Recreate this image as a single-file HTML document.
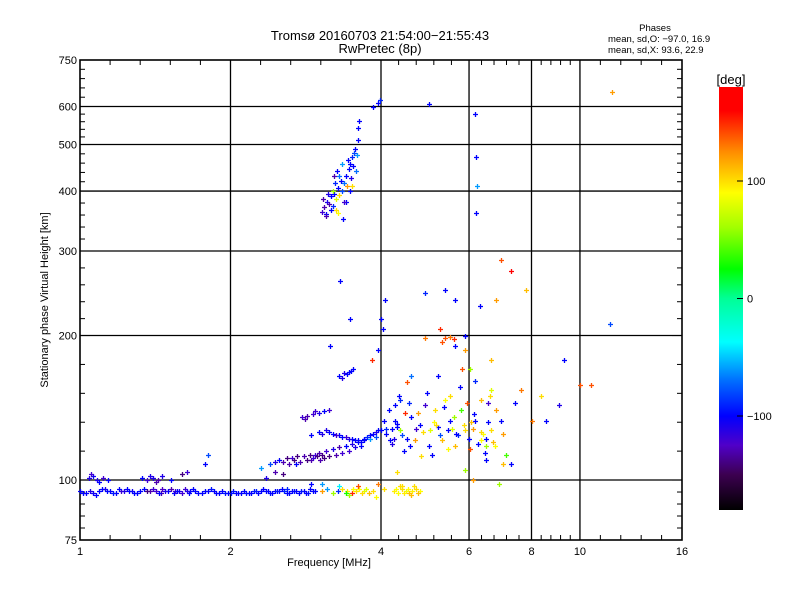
<!DOCTYPE html>
<html><head><meta charset="utf-8">
<style>
html,body{margin:0;padding:0;background:#fff;}
svg{display:block;font-family:"Liberation Sans",sans-serif;}
</style></head>
<body>
<svg id="chart" width="800" height="600" viewBox="0 0 800 600" xmlns="http://www.w3.org/2000/svg">
<rect width="800" height="600" fill="#fff"/>
<defs>
<linearGradient id="cbgrad" x1="0" y1="1" x2="0" y2="0">
<stop offset="0" stop-color="#000000"/>
<stop offset="0.0833" stop-color="#3c0050"/>
<stop offset="0.1528" stop-color="#5000c8"/>
<stop offset="0.2222" stop-color="#0000ff"/>
<stop offset="0.3056" stop-color="#006eff"/>
<stop offset="0.3972" stop-color="#00ffff"/>
<stop offset="0.5" stop-color="#00ff96"/>
<stop offset="0.5694" stop-color="#00ff00"/>
<stop offset="0.6667" stop-color="#a0ff00"/>
<stop offset="0.75" stop-color="#ffff00"/>
<stop offset="0.8472" stop-color="#ff8c00"/>
<stop offset="0.9444" stop-color="#ff0000"/>
<stop offset="1" stop-color="#ff0000"/>
</linearGradient>
</defs>
<text x="380" y="40" font-size="13" text-anchor="middle">Tromsø 20160703 21:54:00−21:55:43</text>
<text x="380" y="53" font-size="13" text-anchor="middle">RwPretec (8p)</text>
<text x="655" y="31" font-size="9.5" text-anchor="middle">Phases</text>
<text x="608" y="42" font-size="9.5">mean, sd,O: −97.0, 16.9</text>
<text x="608" y="53" font-size="9.5">mean, sd,X:  93.6, 22.9</text>
<g id="grid"></g>
<g id="axes"></g>
<g id="marks"></g>
<text x="329" y="566" font-size="11" text-anchor="middle">Frequency [MHz]</text>
<text transform="translate(48,300) rotate(-90)" font-size="11" text-anchor="middle">Stationary phase Virtual Height [km]</text>
<rect x="719" y="87" width="24" height="423" fill="url(#cbgrad)"/>
<text x="731" y="84" font-size="13" text-anchor="middle">[deg]</text>
<g id="cbticks"></g>
</svg>
<script>
const xTickLabels=[1,2,4,6,8,10,16];
const xGridValues=[2,4,6,8,10];
const yTickLabels=[75,100,200,300,400,500,600,750];
const yGridValues=[100,200,300,400,500,600];
const cbTickValues=[100,0,-100];

const eTraceFreq=[1.00,1.03,1.06,1.09,1.12,1.15,1.18,1.21,1.24,1.27,1.30,1.34,1.38,1.42,1.46,1.50,1.54,1.58,1.62,1.66,1.70,1.75,1.80,1.85,1.90,1.95,2.00,2.05,2.10,2.15,2.20,2.25,2.30,2.35,2.40,2.45,2.50,2.56,2.62,2.68,2.74,2.80,2.86,2.92,1.45,1.55,1.65,2.6];
const eTraceHeight=[95,94,94,95,96,95,94,95,96,95,94,96,95,95,96,95,94,95,96,95,95,94,95,95,94,94,94,94,94,94,94,95,95,95,94,95,95,95,94,95,94,95,94,95,94,95,94,96];
const eTracePhase=[-100,-100,-105,-100,-110,-100,-100,-120,-100,-105,-100,-100,-130,-120,-125,-100,-100,-110,-120,-100,-100,-100,-100,-100,-100,-95,-95,-100,-100,-95,-100,-90,-100,-100,-95,-100,-100,-90,-100,-95,-100,-100,-95,-100,-130,-120,-100,-90];

const eTrace2Freq=[1.015,1.045,1.075,1.105,1.135,1.165,1.195,1.225,1.255,1.285,1.32,1.36,1.40,1.44,1.48,1.52,1.56,1.60,1.64,1.68,1.725,1.775,1.825,1.875,1.925,1.975,2.025,2.075,2.125,2.175,2.225,2.275,2.325,2.375,2.425,2.475,2.53,2.59,2.65,2.71,2.77,2.83,2.89,2.95];
const eTrace2Height=[94,95,93,96,95,94,96,95,95,94,95,95,96,94,95,96,95,94,95,96,94,95,96,94,95,94,95,94,95,94,95,94,96,95,94,95,96,94,95,95,95,94,96,95];
const eTrace2Phase=[-100,-110,-100,-100,-100,-95,-100,-110,-100,-100,-100,-140,-120,-100,-110,-130,-100,-120,-110,-100,-100,-100,-95,-100,-100,-100,-95,-100,-100,-100,-95,-100,-100,-100,-100,-95,-100,-100,-100,-100,-95,-100,-100,-100];

const eHighFreq=[1.04,1.06,1.08,1.11,1.14,1.33,1.36,1.40,1.43,1.46,1.52,1.60,1.64,2.35,2.45,2.55,2.9,3.05,1.05,1.09,1.38,1.42,1.78,1.8];
const eHighHeight=[101,102,100,101,100,101,100,101,100,102,100,103,104,101,104,103,98,98,103,99,102,99,108,113];
const eHighPhase=[-110,-105,-110,-120,-100,-100,-120,-110,-130,-110,-100,-140,-120,-110,-130,-140,-100,-60,-120,-100,-110,-130,-100,-80];

const esFreq=[3.05,3.12,3.2,3.28,3.35,3.42,3.5,3.56,3.62,3.7,3.78,3.85,4.25,4.32,4.4,4.48,4.55,4.62,4.7,4.78,3.45,3.6,4.4,4.6,3.3,3.52,3.66,3.74,4.28,4.36,4.44,4.52,4.66,4.74,3.4,3.9,3.95,4.05];
const esHeight=[95,96,94,95,96,95,94,95,96,95,94,95,95,94,96,95,94,95,96,95,93,97,97,93,97,96,94,96,96,97,94,96,97,94,94,92,98,96];
const esPhase=[120,-60,60,-90,100,95,150,100,90,80,110,100,95,90,100,85,110,95,100,90,60,140,100,110,-40,90,100,80,90,100,95,90,100,110,30,90,130,100];

const fLowFreq=[2.45,2.5,2.55,2.6,2.65,2.72,2.8,2.88,2.95,3.0,3.05,3.1,3.2,3.3,3.4,3.5,3.6,3.7,3.8,3.9,2.7,2.9,3.15,3.35,2.62,2.68,2.76,2.84,2.92,2.98,3.02,3.08,3.25,3.45,3.55,3.65,2.3,2.4];
const fLowHeight=[109,110,109,111,111,112,112,113,113,114,113,115,116,117,118,119,120,121,122,123,108,110,112,114,108,110,109,110,111,112,110,111,113,115,117,118,106,108];
const fLowPhase=[-110,-100,-130,-140,-120,-140,-130,-140,-120,-130,-140,-120,-110,-130,-100,-110,-100,-100,-60,-80,-100,-130,-140,-120,-130,-140,-130,-140,-120,-140,-130,-140,-130,-120,-110,-100,-60,-80];

const fMidFreq=[2.9,3.0,3.1,3.2,3.3,3.4,3.5,3.6,3.7,3.8,3.9,4.0,4.1,4.2,4.3,2.78,2.85,2.92,3.0,3.08,3.15,3.3,3.38,3.45,3.52,3.05,3.15,3.25,3.35,3.45,3.55,3.65,3.75,3.85,3.95,2.82,2.95,3.35,3.42,3.48];
const fMidHeight=[124,126,127,125,124,123,122,121,122,124,126,127,128,128,129,135,136,137,138,139,140,165,167,168,170,125,126,124,123,122,121,120,123,125,127,134,139,163,166,169];
const fMidPhase=[-100,-100,-110,-100,-100,-120,-100,-100,-100,-100,-110,-100,-90,-100,-100,-120,-130,-120,-110,-100,-120,-100,-110,-100,-100,-110,-100,-120,-100,-110,-100,-100,-90,-100,-100,-130,-120,-110,-100,-100];

const fHighFreq=[3.05,3.08,3.1,3.12,3.15,3.18,3.2,3.22,3.25,3.28,3.3,3.32,3.35,3.38,3.4,3.42,3.45,3.48,3.5,3.52,3.55,3.58,3.6,3.2,3.3,3.4,3.62,3.85,3.95,3.98,3.1,3.25,3.06,3.14,3.17,3.23,3.27,3.34,3.37,3.44,3.47,3.53,3.57,3.36,3.28,3.46,3.6,3.22,3.5];
const fHighHeight=[362,370,358,380,375,390,372,395,385,405,392,420,400,415,430,410,445,425,470,450,490,475,510,400,430,380,560,600,610,620,355,365,385,395,365,415,440,455,380,465,400,480,440,350,360,455,540,430,410];
const fHighPhase=[-120,-130,-100,-110,-130,-100,-90,-100,80,-100,100,-100,-80,-70,-100,120,-100,-110,-90,-100,-100,-60,-100,60,-70,-100,-100,-100,-100,-90,-130,100,-130,-110,-100,-90,-100,-60,-120,-100,-100,-80,-70,-100,90,-100,-100,-130,100];

const scatterFreq=[4.17,4.27,4.37,4.47,4.57,4.68,4.79,4.90,5.01,5.13,5.25,5.38,5.50,5.63,5.77,5.90,6.04,6.18,6.33,6.48,6.63,6.79,6.33,6.63,6.95,7.11,7.28,7.63,8.37,8.57,9.1,9.3,10,10.5,8.0,11.5,11.6,7.8,7.28,6.95,6.79,5.63,5.38,5.25,5.38,5.50,5.63,5.90,6.04,6.18,6.63,4.0,4.08,4.04,3.94,3.84,3.46,3.31,3.16,4.27,4.37,6.18,6.2,6.22,6.2,5.0,4.9,4.5,4.8,5.9,6.1,6.5,7.0,5.5,4.6,4.3,6.9,6.5];
const scatterHeight=[121,133,127,138,118,121,130,143,127,140,124,147,133,118,140,127,116,133,121,118,127,140,147,154,133,113,108,154,150,133,143,178,158,158,133,211,643,249,273,287,237,237,249,206,198,199,190,187,170,161,178,216,237,206,187,178,216,260,190,143,147,580,470,410,360,606,245,160,112,105,100,110,108,150,165,104,98,122];
const scatterPhase=[-100,-100,60,150,-100,120,-100,-120,80,100,-80,90,-100,110,40,100,140,-100,90,60,100,120,110,80,-100,40,-100,130,100,-100,-110,-100,140,140,130,-80,120,110,160,140,120,-100,-100,150,140,130,-100,120,60,-90,110,-100,-100,-100,-100,150,-100,-100,-100,-100,-90,-100,-100,-60,-100,-100,-90,140,100,60,120,-100,110,100,-70,100,60,-100];

const scatter2Freq=[4.1,4.2,4.3,4.4,4.5,4.6,4.7,4.85,5.0,5.1,5.2,5.3,5.45,5.6,5.7,5.85,6.0,6.1,6.25,6.4,6.55,6.7,4.15,4.35,4.55,4.75,4.95,5.15,5.35,5.55,5.75,5.95,6.15,6.35,6.55,6.75,4.05,4.25,4.45,5.05,5.45,5.65,6.05,6.45,7.0,7.4,5.2,5.8,6.6,4.9,5.3,5.6,5.9,6.3];
const scatter2Height=[125,119,131,124,122,135,128,126,118,132,129,121,127,135,124,130,122,128,119,125,132,120,140,150,145,138,152,130,142,128,156,145,137,126,145,118,133,122,115,113,116,125,132,114,125,145,165,170,150,198,194,197,200,230];
const scatter2Phase=[-100,-110,-100,-80,-100,-100,-120,100,-100,90,-100,110,-100,60,-90,100,-100,120,-100,90,-100,110,-100,-100,-90,120,-100,100,-100,80,-100,140,-100,100,-120,90,-100,-110,-100,-100,90,-100,110,-100,120,-100,-100,140,100,130,140,150,-100,-100];

const groups=[
 [eTraceFreq,eTraceHeight,eTracePhase,'e-layer-point'],
 [eTrace2Freq,eTrace2Height,eTrace2Phase,'e-layer-point'],
 [eHighFreq,eHighHeight,eHighPhase,'e-high-point'],
 [esFreq,esHeight,esPhase,'es-point'],
 [fLowFreq,fLowHeight,fLowPhase,'f-low-point'],
 [fMidFreq,fMidHeight,fMidPhase,'f-mid-point'],
 [fHighFreq,fHighHeight,fHighPhase,'f-high-point'],
 [scatterFreq,scatterHeight,scatterPhase,'scatter-point'],
 [scatter2Freq,scatter2Height,scatter2Phase,'scatter-point']
];

const X0=80,X1=682,Y0=540,Y1=60;
function xScale(f){return X0+(X1-X0)*Math.log(f)/Math.log(16);}
function yScale(h){return Y0-(Y0-Y1)*Math.log10(h/75);}
const cmStops=[[-180,0,0,0],[-150,60,0,80],[-125,80,0,200],[-100,0,0,255],[-70,0,110,255],[-37,0,255,255],[0,0,255,150],[25,0,255,0],[60,160,255,0],[90,255,255,0],[125,255,140,0],[160,255,0,0],[180,255,0,0]];
function phaseColor(p){
 p=Math.max(-180,Math.min(180,p));
 for(let i=0;i<cmStops.length-1;i++){
  const a=cmStops[i],b=cmStops[i+1];
  if(p>=a[0]&&p<=b[0]){const t=(p-a[0])/(b[0]-a[0]);
   return 'rgb('+[1,2,3].map(k=>Math.round(a[k]+(b[k]-a[k])*t)).join(',')+')';}
 }
 return '#f00';
}
const NS='http://www.w3.org/2000/svg';
function mk(tag,attrs,parent){const e=document.createElementNS(NS,tag);for(const k in attrs)e.setAttribute(k,attrs[k]);parent.appendChild(e);return e;}

const grid=document.getElementById('grid'),axes=document.getElementById('axes'),marks=document.getElementById('marks');
xGridValues.forEach(v=>{
 const l=mk('line',{x1:xScale(v),x2:xScale(v),y1:Y1,y2:Y0,stroke:'#000','stroke-width':1.3},grid);
 
 
});
yGridValues.forEach(v=>{
 const l=mk('line',{x1:X0,x2:X1,y1:yScale(v),y2:yScale(v),stroke:'#000','stroke-width':1.3},grid);
 
 
});
const frame=mk('rect',{x:X0,y:Y1,width:X1-X0,height:Y0-Y1,fill:'none',stroke:'#000','stroke-width':1.6},axes);


for(let i=0;i<xTickLabels.length;i++){
 const v=xTickLabels[i],x=xScale(v);
 mk('line',{x1:x,x2:x,y1:Y0,y2:Y0-10,stroke:'#000'},axes);
 mk('line',{x1:x,x2:x,y1:Y1,y2:Y1+10,stroke:'#000'},axes);
 const t=mk('text',{x:x,y:Y0+15,'font-size':11,'text-anchor':'middle'},axes);
 t.textContent=v;
 
 
 if(i<xTickLabels.length-1){
  const a=Math.log(v),b=Math.log(xTickLabels[i+1]);
  for(let k=1;k<5;k++){const mx=xScale(Math.exp(a+(b-a)*k/5));
   mk('line',{x1:mx,x2:mx,y1:Y0,y2:Y0-5,stroke:'#000'},axes);
   mk('line',{x1:mx,x2:mx,y1:Y1,y2:Y1+5,stroke:'#000'},axes);}
 }
}
for(let i=0;i<yTickLabels.length;i++){
 const v=yTickLabels[i],y=yScale(v);
 mk('line',{x1:X0,x2:X0+10,y1:y,y2:y,stroke:'#000'},axes);
 mk('line',{x1:X1,x2:X1-10,y1:y,y2:y,stroke:'#000'},axes);
 const t=mk('text',{x:X0-3,y:y+4,'font-size':11,'text-anchor':'end'},axes);
 t.textContent=v;
 
 
 if(i<yTickLabels.length-1){
  const a=Math.log(v),b=Math.log(yTickLabels[i+1]);
  for(let k=1;k<5;k++){const my=yScale(Math.exp(a+(b-a)*k/5));
   mk('line',{x1:X0,x2:X0+5,y1:my,y2:my,stroke:'#000'},axes);
   mk('line',{x1:X1,x2:X1-5,y1:my,y2:my,stroke:'#000'},axes);}
 }
}
groups.forEach(g=>{
 const [fs,hs,ps,name]=g;
 for(let i=0;i<fs.length;i++){
  const x=Math.round(xScale(fs[i])),y=Math.round(yScale(hs[i]));
  const p=mk('path',{d:'M'+(x-2)+' '+(y+0.5)+'h5M'+(x+0.5)+' '+(y-2)+'v5',stroke:phaseColor(ps[i]),'stroke-width':1.3,fill:'none'},marks);
  
  
 }
});
const cb=document.getElementById('cbticks');
cbTickValues.forEach(v=>{
 const y=510-(v+180)/360*423;
 mk('line',{x1:737,x2:743,y1:y,y2:y,stroke:'#000'},cb);
 const t=mk('text',{x:747,y:y+4,'font-size':11},cb);
 t.textContent=(v<0?'−':'')+Math.abs(v);
 
 
});
</script>
</body></html>
